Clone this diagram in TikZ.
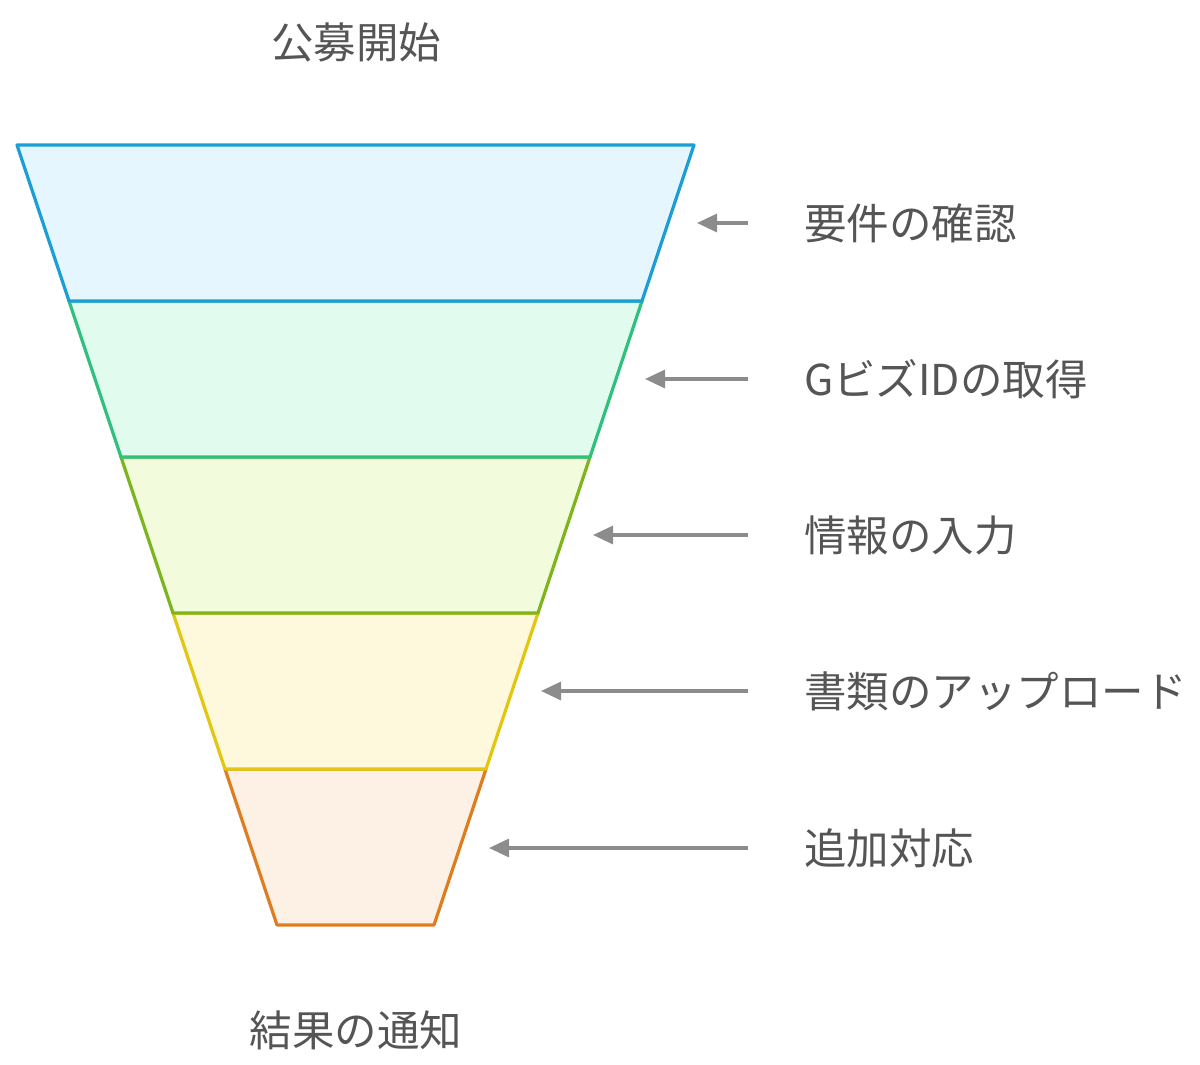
\documentclass[tikz,border=0pt]{standalone}
\usepackage{fontspec}
\setmainfont{Noto Sans CJK JP}
\usetikzlibrary{arrows.meta}
\definecolor{txt}{HTML}{555555}
\definecolor{arrc}{HTML}{8C8C8C}
\definecolor{s1}{HTML}{1A9FD6}\definecolor{f1}{HTML}{E5F6FE}
\definecolor{s2}{HTML}{2EC27E}\definecolor{f2}{HTML}{E1FCEF}
\definecolor{s3}{HTML}{7DB51C}\definecolor{f3}{HTML}{F2FCDC}
\definecolor{s4}{HTML}{E2C70E}\definecolor{f4}{HTML}{FEF9DC}
\definecolor{s5}{HTML}{E07D1E}\definecolor{f5}{HTML}{FDF1E6}
\tikzset{
  band/.style={line width=3.2pt, line join=round},
  lbl/.style={anchor=west, inner sep=0pt, text=txt, font=\fontsize{42.5}{50}\selectfont},
  ttl/.style={inner sep=0pt, text=txt, font=\fontsize{42.5}{50}\selectfont},
  arr/.style={draw=arrc, line width=3.2pt, -{Triangle[length=20pt,width=18pt]}}
}
\begin{document}
\begin{tikzpicture}[x=1pt,y=-1pt]
\useasboundingbox (0,0) rectangle (1200,1065);
% bands drawn bottom to top
\draw[band, draw=s5, fill=f5] (225,769) -- (486,769) -- (434,925) -- (277,925) -- cycle;
\draw[band, draw=s4, fill=f4] (173,613) -- (538,613) -- (486,769) -- (225,769) -- cycle;
\draw[band, draw=s3, fill=f3] (121,457) -- (590,457) -- (538,613) -- (173,613) -- cycle;
\draw[band, draw=s2, fill=f2] (69,301) -- (642,301) -- (590,457) -- (121,457) -- cycle;
\draw[band, draw=s1, fill=f1] (17,145) -- (694,145) -- (642,301) -- (69,301) -- cycle;
% arrow tips on the right edge
\coordinate (h1) at (697,223);
\coordinate (h2) at (645,379);
\coordinate (h3) at (593,535);
\coordinate (h4) at (541,691);
\coordinate (h5) at (489,848);
% titles
\node[ttl] (top) at (356,42) {公募開始};
\node[ttl] (bot) at (356,1030) {結果の通知};
% labels
\node[lbl] (l1) at (804,223) {要件の確認};
\node[lbl] (l2) at (804,379) {GビズIDの取得};
\node[lbl] (l3) at (804,535) {情報の入力};
\node[lbl] (l4) at (804,691) {書類のアップロード};
\node[lbl] (l5) at (804,848) {追加対応};
% arrows
\draw[arr] ([xshift=-56pt]l1.west) -- (h1);
\draw[arr] ([xshift=-56pt]l2.west) -- (h2);
\draw[arr] ([xshift=-56pt]l3.west) -- (h3);
\draw[arr] ([xshift=-56pt]l4.west) -- (h4);
\draw[arr] ([xshift=-56pt]l5.west) -- (h5);
\end{tikzpicture}
\end{document}
